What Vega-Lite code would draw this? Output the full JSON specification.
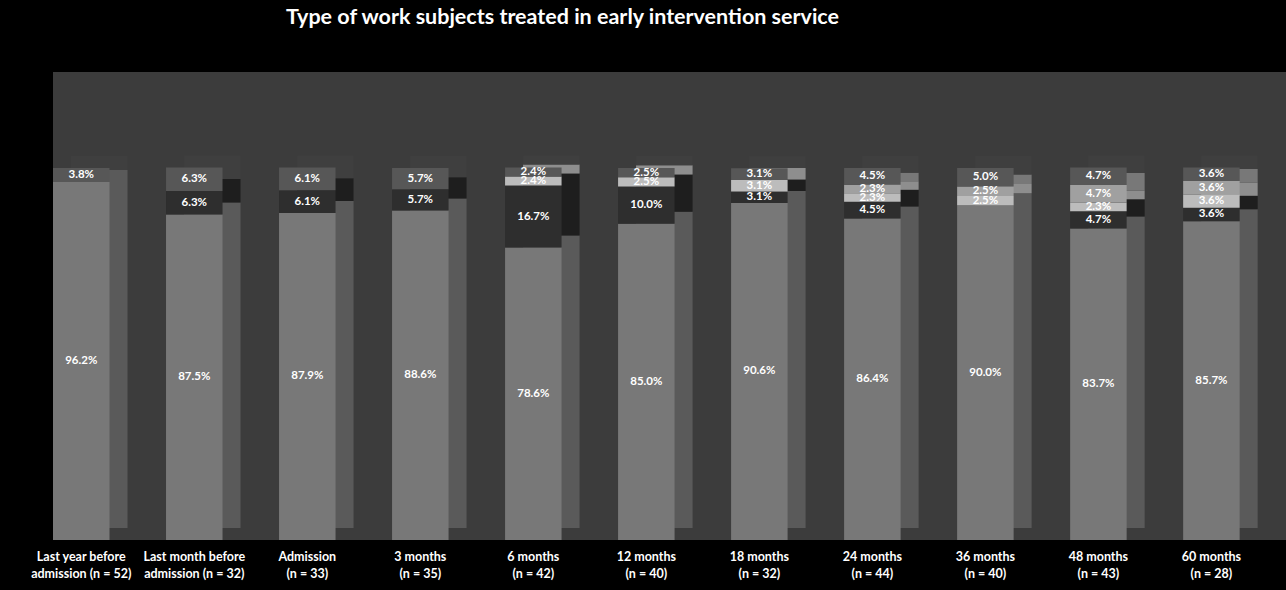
{
  "$schema": "https://vega.github.io/schema/vega-lite/v6.json",
  "autosize": {"type": "none"},
  "width": 1233,
  "height": 468,
  "padding": {"left": 53, "top": 72, "right": 0, "bottom": 50},
  "background": "#000000",
  "view": {"fill": "#3c3c3c", "stroke": null},
  "title": {
    "text": "Type of work subjects treated in early intervention service",
    "color": "#ffffff",
    "font": "Lato",
    "fontSize": 21.5,
    "fontWeight": "bold",
    "anchor": "middle",
    "dx": -107,
    "offset": 44
  },
  "data": {
    "values": [
      {"period": "Last year before|admission (n = 52)", "type": "Type 1", "v": 0.962},
      {"period": "Last year before|admission (n = 52)", "type": "Type 5", "v": 0.038},
      {"period": "Last month before|admission (n = 32)", "type": "Type 1", "v": 0.875},
      {"period": "Last month before|admission (n = 32)", "type": "Type 2", "v": 0.063},
      {"period": "Last month before|admission (n = 32)", "type": "Type 5", "v": 0.063},
      {"period": "Admission|(n = 33)", "type": "Type 1", "v": 0.879},
      {"period": "Admission|(n = 33)", "type": "Type 2", "v": 0.061},
      {"period": "Admission|(n = 33)", "type": "Type 5", "v": 0.061},
      {"period": "3 months|(n = 35)", "type": "Type 1", "v": 0.886},
      {"period": "3 months|(n = 35)", "type": "Type 2", "v": 0.057},
      {"period": "3 months|(n = 35)", "type": "Type 5", "v": 0.057},
      {"period": "6 months|(n = 42)", "type": "Type 1", "v": 0.786},
      {"period": "6 months|(n = 42)", "type": "Type 2", "v": 0.167},
      {"period": "6 months|(n = 42)", "type": "Type 3", "v": 0.024},
      {"period": "6 months|(n = 42)", "type": "Type 5", "v": 0.024},
      {"period": "12 months|(n = 40)", "type": "Type 1", "v": 0.85},
      {"period": "12 months|(n = 40)", "type": "Type 2", "v": 0.1},
      {"period": "12 months|(n = 40)", "type": "Type 3", "v": 0.025},
      {"period": "12 months|(n = 40)", "type": "Type 5", "v": 0.025},
      {"period": "18 months|(n = 32)", "type": "Type 1", "v": 0.906},
      {"period": "18 months|(n = 32)", "type": "Type 2", "v": 0.031},
      {"period": "18 months|(n = 32)", "type": "Type 3", "v": 0.031},
      {"period": "18 months|(n = 32)", "type": "Type 5", "v": 0.031},
      {"period": "24 months|(n = 44)", "type": "Type 1", "v": 0.864},
      {"period": "24 months|(n = 44)", "type": "Type 2", "v": 0.045},
      {"period": "24 months|(n = 44)", "type": "Type 3", "v": 0.023},
      {"period": "24 months|(n = 44)", "type": "Type 4", "v": 0.023},
      {"period": "24 months|(n = 44)", "type": "Type 5", "v": 0.045},
      {"period": "36 months|(n = 40)", "type": "Type 1", "v": 0.9},
      {"period": "36 months|(n = 40)", "type": "Type 3", "v": 0.025},
      {"period": "36 months|(n = 40)", "type": "Type 4", "v": 0.025},
      {"period": "36 months|(n = 40)", "type": "Type 5", "v": 0.05},
      {"period": "48 months|(n = 43)", "type": "Type 1", "v": 0.837},
      {"period": "48 months|(n = 43)", "type": "Type 2", "v": 0.047},
      {"period": "48 months|(n = 43)", "type": "Type 3", "v": 0.023},
      {"period": "48 months|(n = 43)", "type": "Type 4", "v": 0.047},
      {"period": "48 months|(n = 43)", "type": "Type 5", "v": 0.047},
      {"period": "60 months|(n = 28)", "type": "Type 1", "v": 0.857},
      {"period": "60 months|(n = 28)", "type": "Type 2", "v": 0.036},
      {"period": "60 months|(n = 28)", "type": "Type 3", "v": 0.036},
      {"period": "60 months|(n = 28)", "type": "Type 4", "v": 0.036},
      {"period": "60 months|(n = 28)", "type": "Type 5", "v": 0.036}
    ]
  },
  "encoding": {
    "x": {
      "field": "period",
      "type": "nominal",
      "sort": null,
      "scale": {"paddingInner": 0.5, "paddingOuter": 0.205, "align": 0},
      "axis": {
        "title": null,
        "domain": false,
        "ticks": false,
        "labelAngle": 0,
        "labelColor": "#ffffff",
        "labelFont": "Lato",
        "labelFontSize": 12.5,
        "labelFontWeight": "bold",
        "labelPadding": 10,
        "labelLineHeight": 17,
        "labelExpr": "split(datum.label, '|')"
      }
    }
  },
  "layer": [
    {
      "mark": {"type": "bar", "xOffset": 18, "yOffset": -12},
      "encoding": {
        "y": {"field": "v", "type": "quantitative", "stack": "zero", "scale": {"domain": [0, 1.258], "nice": false}, "axis": null},
        "color": {
          "field": "type",
          "type": "nominal",
          "scale": {"domain": ["Type 1", "Type 2", "Type 3", "Type 4", "Type 5"], "range": ["#5a5a5a", "#1e1e1e", "#8e8e8e", "#787878", "#3f3f3f"]},
          "legend": null
        },
        "order": {"field": "type", "sort": "ascending"}
      }
    },
    {
      "mark": {"type": "bar"},
      "encoding": {
        "y": {"field": "v", "type": "quantitative", "stack": "zero", "axis": null},
        "color": {
          "field": "type",
          "type": "nominal",
          "scale": {"domain": ["Type 1", "Type 2", "Type 3", "Type 4", "Type 5"], "range": ["#787878", "#2e2e2e", "#bcbcbc", "#a0a0a0", "#575757"]},
          "legend": null
        },
        "order": {"field": "type", "sort": "ascending"}
      }
    },
    {
      "transform": [
        {"stack": "v", "groupby": ["period"], "sort": [{"field": "type", "order": "ascending"}], "as": ["y0", "y1"]},
        {"fold": ["y0", "y1"], "as": ["edge", "pos"]},
        {"aggregate": [{"op": "mean", "field": "pos", "as": "mid"}], "groupby": ["period", "type", "v"]}
      ],
      "mark": {"type": "text", "color": "#ffffff", "font": "Lato", "fontSize": 11.5, "fontWeight": "bold", "baseline": "middle"},
      "encoding": {
        "y": {"field": "mid", "type": "quantitative", "axis": null},
        "text": {"field": "v", "type": "quantitative", "format": ".1%"}
      }
    }
  ],
  "resolve": {"scale": {"color": "independent"}}
}
